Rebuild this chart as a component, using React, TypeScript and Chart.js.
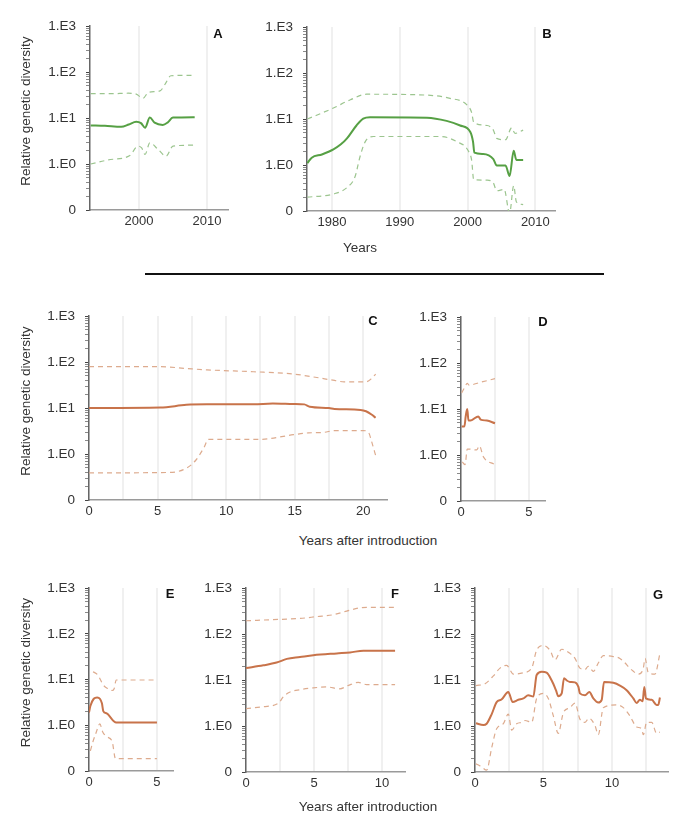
import React, { useEffect, useRef } from 'react';
import { Chart, registerables } from 'chart.js';

Chart.register(...registerables);

type Pt = [number, number];

// y axis: log10 of relative genetic diversity; bottom tick labelled "0"
const yTickValues = [-1, 0, 1, 2, 3];
const yTickLabels = ['0', '1.E0', '1.E1', '1.E2', '1.E3'];
const minorMultipliers = [2, 3, 4, 5, 6, 7, 8, 9];

// ---- Panel A (years) ----
const aMid: Pt[] = [[1992.9, 0.84], [1995, 0.83], [1997.4, 0.81], [1998.5, 0.86], [1999.6, 0.92], [2000.3, 0.89], [2000.9, 0.79], [2001.6, 1.01], [2002.3, 0.9], [2003.5, 0.85], [2004.2, 0.9], [2005.0, 1.01], [2008.2, 1.02]];
const aUp: Pt[] = [[1992.9, 1.53], [1996, 1.53], [1998.4, 1.54], [1999.6, 1.52], [2000.6, 1.43], [2001.4, 1.56], [2003.1, 1.59], [2003.9, 1.75], [2004.7, 1.92], [2008.2, 1.93]];
const aLo: Pt[] = [[1992.9, 0.0], [1995.5, 0.09], [1998.6, 0.18], [1999.9, 0.39], [2000.4, 0.35], [2000.9, 0.21], [2001.6, 0.46], [2002.8, 0.32], [2004.0, 0.17], [2005.0, 0.39], [2008.2, 0.41]];

// ---- Panel B (years) ----
const bMid: Pt[] = [[1976.35, 0.04], [1977.0, 0.16], [1978.5, 0.23], [1980.2, 0.34], [1981.3, 0.45], [1982.2, 0.58], [1983.6, 0.86], [1984.6, 1.01], [1985.6, 1.04], [1994, 1.03], [1996.9, 0.96], [1998.9, 0.86], [2000.4, 0.72], [2000.8, 0.51], [2001.0, 0.27], [2002.3, 0.24], [2003.8, 0.13], [2004.3, -0.01], [2005.6, -0.01], [2006.2, -0.24], [2006.8, 0.31], [2007.2, 0.11], [2008.2, 0.11]];
const bUp: Pt[] = [[1976.35, 1.0], [1980.2, 1.24], [1982.7, 1.42], [1985.1, 1.54], [1994, 1.52], [1997.4, 1.45], [1999.9, 1.31], [2000.6, 1.14], [2000.9, 0.93], [2002.9, 0.86], [2003.8, 0.76], [2004.3, 0.58], [2005.6, 0.55], [2006.5, 0.81], [2007.0, 0.69], [2008.2, 0.76]];
const bLo: Pt[] = [[1976.35, -0.7], [1980.2, -0.63], [1982.2, -0.49], [1983.4, -0.25], [1984.1, 0.17], [1984.9, 0.51], [1986.1, 0.62], [1996, 0.62], [1998.4, 0.51], [2000.1, 0.31], [2000.6, 0.1], [2000.9, -0.32], [2002.9, -0.33], [2003.8, -0.39], [2004.3, -0.56], [2005.4, -0.53], [2006.2, -1.05], [2006.8, -0.45], [2007.2, -0.8], [2008.2, -0.86]];

// ---- Panel C (years after introduction) ----
const cMid: Pt[] = [[0, 1.0], [5.2, 1.01], [7.1, 1.07], [8.6, 1.08], [12, 1.08], [13.4, 1.1], [14.9, 1.09], [15.7, 1.08], [16.1, 1.03], [17.5, 1.0], [17.9, 0.98], [19.8, 0.96], [20.2, 0.93], [20.6, 0.86], [20.9, 0.79]];
const cUp: Pt[] = [[0, 1.9], [5.2, 1.9], [7.1, 1.86], [8.6, 1.83], [12, 1.79], [14.9, 1.74], [16.5, 1.67], [17.9, 1.6], [18.6, 1.57], [20.2, 1.57], [20.6, 1.64], [20.9, 1.74]];
const cLo: Pt[] = [[0, -0.41], [5.9, -0.4], [7.1, -0.31], [7.8, -0.13], [8.4, 0.15], [8.7, 0.32], [12.5, 0.32], [14.9, 0.42], [16.0, 0.46], [17.1, 0.47], [17.9, 0.51], [20.0, 0.51], [20.4, 0.46], [20.6, 0.28], [20.9, -0.03]];

// ---- Panel D ----
const dMid: Pt[] = [[0.05, 0.62], [0.25, 0.62], [0.35, 0.85], [0.46, 1.0], [0.55, 0.75], [0.8, 0.76], [1.27, 0.84], [1.45, 0.77], [1.9, 0.75], [2.5, 0.69]];
const dUp: Pt[] = [[0.05, 1.35], [0.3, 1.49], [0.46, 1.56], [0.6, 1.52], [1.4, 1.58], [2.5, 1.66]];
const dLo: Pt[] = [[0.1, -0.15], [0.3, -0.21], [0.46, 0.13], [0.6, 0.13], [1.15, 0.11], [1.35, 0.2], [1.65, -0.04], [2.5, -0.21]];

// ---- Panel E ----
const eMid: Pt[] = [[0, 0.28], [0.1, 0.42], [0.35, 0.58], [0.6, 0.61], [0.8, 0.58], [0.95, 0.48], [1.05, 0.31], [1.3, 0.26], [2.0, 0.06], [5, 0.06]];
const eUp: Pt[] = [[0.3, 1.17], [0.65, 1.1], [1.05, 0.88], [1.4, 0.8], [1.7, 0.76], [1.85, 0.8], [2.0, 0.99], [5, 0.99]];
const eLo: Pt[] = [[0.1, -0.56], [0.3, -0.35], [0.5, -0.18], [0.8, 0.03], [1.0, -0.14], [1.3, -0.25], [1.7, -0.35], [1.95, -0.73], [5, -0.73]];

// ---- Panel F ----
const fMid: Pt[] = [[0, 1.26], [1.27, 1.32], [2.25, 1.38], [3.0, 1.46], [3.97, 1.5], [4.95, 1.54], [6.67, 1.58], [7.65, 1.6], [8.63, 1.64], [10.96, 1.64]];
const fUp: Pt[] = [[0, 2.29], [2.5, 2.32], [3.97, 2.34], [5.2, 2.38], [6.4, 2.42], [7.4, 2.5], [8.38, 2.57], [9.1, 2.58], [10.96, 2.58]];
const fLo: Pt[] = [[0, 0.38], [1.27, 0.42], [2.4, 0.5], [2.75, 0.64], [3.24, 0.74], [3.97, 0.79], [4.95, 0.83], [5.93, 0.85], [6.9, 0.81], [7.5, 0.88], [8.26, 0.95], [8.87, 0.9], [10.96, 0.9]];

// ---- Panel G ----
const gMid: Pt[] = [[0.07, 0.06], [0.61, 0.02], [0.85, 0.05], [1.22, 0.26], [1.58, 0.52], [1.95, 0.58], [2.31, 0.72], [2.43, 0.74], [2.75, 0.52], [3.16, 0.57], [3.53, 0.6], [3.89, 0.67], [4.26, 0.64], [4.5, 1.11], [4.87, 1.18], [5.23, 1.16], [5.6, 0.99], [5.91, 0.78], [6.08, 0.65], [6.33, 0.71], [6.5, 1.04], [6.7, 0.99], [6.93, 0.96], [7.3, 0.95], [7.55, 0.85], [7.66, 0.71], [8.03, 0.67], [8.35, 0.74], [8.64, 0.6], [9.0, 0.51], [9.25, 0.57], [9.42, 0.96], [10.1, 0.94], [10.58, 0.88], [11.07, 0.78], [11.56, 0.6], [11.8, 0.5], [12.04, 0.57], [12.24, 0.54], [12.36, 0.85], [12.48, 0.6], [12.9, 0.57], [13.26, 0.46], [13.38, 0.46], [13.5, 0.62]];
const gUp: Pt[] = [[0.07, 0.88], [0.73, 0.92], [1.34, 1.09], [1.83, 1.26], [2.31, 1.32], [2.8, 1.13], [3.53, 1.16], [4.14, 1.26], [4.5, 1.65], [4.99, 1.75], [5.47, 1.65], [5.84, 1.44], [6.33, 1.67], [6.93, 1.58], [7.3, 1.47], [7.66, 1.26], [8.03, 1.23], [8.27, 1.3], [8.64, 1.19], [9.0, 1.37], [9.37, 1.53], [10.1, 1.51], [10.58, 1.47], [11.56, 1.19], [11.92, 1.13], [12.29, 1.26], [12.41, 1.47], [12.65, 1.16], [13.14, 1.13], [13.5, 1.58]];
const gLo: Pt[] = [[0.07, -0.82], [0.49, -0.89], [0.85, -0.96], [1.22, -0.47], [1.58, -0.06], [2.07, 0.05], [2.43, 0.26], [2.68, -0.09], [3.04, 0.05], [3.41, 0.08], [3.65, 0.12], [4.14, 0.08], [4.5, 0.6], [4.99, 0.71], [5.35, 0.6], [5.72, 0.22], [6.08, -0.16], [6.45, 0.29], [6.93, 0.4], [7.3, 0.5], [7.66, 0.15], [8.03, 0.08], [8.32, 0.17], [8.76, 0.01], [9.0, -0.19], [9.37, 0.4], [10.34, 0.46], [10.83, 0.4], [11.31, 0.22], [11.8, -0.02], [12.16, -0.06], [12.29, -0.19], [12.53, 0.08], [12.9, 0.08], [13.26, -0.16], [13.5, -0.13]];

// x gridline positions and labelled ticks
const aGrid = [2000, 2010];
const bGrid = [1980, 1990, 2000, 2010];
const cGrid = [0, 2.5, 5, 7.5, 10, 12.5, 15, 17.5, 20];
const deGrid = [0, 2.5, 5];
const fGrid = [0, 2.5, 5, 7.5, 10];
const gGrid = [0, 2.5, 5, 7.5, 10, 12.5];

const Y_TITLE = 'Relative genetic diversity';

const COLORS = {
  green: { mid: '#56a044', band: '#9cc58f' },
  orange: { mid: '#c8734a', band: '#ddab8e' },
};

const FONT = '"Liberation Sans", Arial, Helvetica, sans-serif';

type Panel = {
  letter: string; L: number; R: number; T: number; B: number;
  xMin: number; xMax: number; grid: number[];
  mid: Pt[]; up: Pt[]; lo: Pt[]; color: 'green' | 'orange';
  yTitle: boolean; ldx: number; ldy: number;
};

const panels: Panel[] = [
  { letter: 'A', L: 90, R: 228, T: 18, B: 210, xMin: 1992.8, xMax: 2013.1, grid: aGrid, mid: aMid, up: aUp, lo: aLo, color: 'green', yTitle: true, ldx: -10, ldy: 8 },
  { letter: 'B', L: 307, R: 555, T: 19, B: 211, xMin: 1976.3, xMax: 2012.9, grid: bGrid, mid: bMid, up: bUp, lo: bLo, color: 'green', yTitle: false, ldx: -8, ldy: 7 },
  { letter: 'C', L: 89, R: 387, T: 308, B: 500, xMin: 0, xMax: 21.73, grid: cGrid, mid: cMid, up: cUp, lo: cLo, color: 'orange', yTitle: true, ldx: -14, ldy: 5 },
  { letter: 'D', L: 461, R: 545, T: 309, B: 501, xMin: 0, xMax: 6.18, grid: deGrid, mid: dMid, up: dUp, lo: dLo, color: 'orange', yTitle: false, ldx: -2, ldy: 5 },
  { letter: 'E', L: 89, R: 173, T: 580, B: 771, xMin: 0, xMax: 6.18, grid: deGrid, mid: eMid, up: eUp, lo: eLo, color: 'orange', yTitle: true, ldx: -3, ldy: 6 },
  { letter: 'F', L: 246, R: 405, T: 580, B: 772, xMin: 0, xMax: 11.69, grid: fGrid, mid: fMid, up: fUp, lo: fLo, color: 'orange', yTitle: false, ldx: -10, ldy: 6 },
  { letter: 'G', L: 475, R: 668, T: 580, B: 772, xMin: 0, xMax: 14.09, grid: gGrid, mid: gMid, up: gUp, lo: gLo, color: 'orange', yTitle: false, ldx: -10, ldy: 7 },
];

const PAD_TOP = 10;
const PAD_RIGHT = 4;
const X_AXIS_H = 30;
const Y_AXIS_W = 50;

// draws the panel letter and (for the left column) the rotated y-axis title
const annotPlugin = {
  id: 'panelAnnot',
  afterDraw(chart: any, _args: any, opts: any) {
    const { ctx, chartArea } = chart;
    ctx.save();
    ctx.font = `bold 13px ${FONT}`;
    ctx.fillStyle = '#111';
    ctx.textAlign = 'center';
    ctx.textBaseline = 'middle';
    ctx.fillText(opts.text, chartArea.right + opts.dx, chartArea.top + opts.dy);
    if (opts.yTitle) {
      ctx.font = `13.5px ${FONT}`;
      ctx.fillStyle = '#333';
      ctx.translate(26, (chartArea.top + chartArea.bottom) / 2 - 7);
      ctx.rotate(-Math.PI / 2);
      ctx.fillText(opts.yTitle, 0, 0);
    }
    ctx.restore();
  },
};

function isMajorY(v: number) {
  return yTickValues.some((t) => Math.abs(t - v) < 1e-6);
}

function PanelChart({ p }: { p: Panel }) {
  const ref = useRef<HTMLCanvasElement>(null);
  const yw = p.yTitle ? p.L : Y_AXIS_W;
  const left = p.L - yw;
  const top = p.T - PAD_TOP;
  const w = yw + (p.R - p.L) + PAD_RIGHT;
  const h = PAD_TOP + (p.B - p.T) + X_AXIS_H;

  useEffect(() => {
    if (!ref.current) return;
    const col = COLORS[p.color];
    const toXY = (s: Pt[]) => s.map(([x, y]) => ({ x, y }));
    const yPositions: number[] = [];
    for (let d = -1; d <= 2; d++) {
      yPositions.push(d);
      minorMultipliers.forEach((k) => yPositions.push(d + Math.log10(k)));
    }
    yPositions.push(3);
    const labelled = p.grid.filter((v) => (p.xMin > 1000 ? true : v % 5 === 0));

    const chart = new Chart(ref.current, {
      type: 'line',
      data: {
        datasets: [
          { data: toXY(p.up), borderColor: col.band, borderWidth: 1.2, borderDash: [5, 4], pointRadius: 0, cubicInterpolationMode: 'monotone', fill: false },
          { data: toXY(p.lo), borderColor: col.band, borderWidth: 1.2, borderDash: [5, 4], pointRadius: 0, cubicInterpolationMode: 'monotone', fill: false },
          { data: toXY(p.mid), borderColor: col.mid, borderWidth: 2, pointRadius: 0, cubicInterpolationMode: 'monotone', fill: false },
        ],
      },
      options: {
        responsive: false,
        animation: false,
        events: [],
        layout: { padding: { top: PAD_TOP, right: PAD_RIGHT, bottom: 0, left: 0 } },
        plugins: {
          legend: { display: false },
          tooltip: { enabled: false },
          panelAnnot: { text: p.letter, dx: p.ldx, dy: p.ldy, yTitle: p.yTitle ? Y_TITLE : '' },
        } as any,
        scales: {
          x: {
            type: 'linear',
            min: p.xMin,
            max: p.xMax,
            afterBuildTicks: (scale: any) => { scale.ticks = p.grid.map((v) => ({ value: v })); },
            afterFit: (scale: any) => { scale.height = X_AXIS_H; },
            grid: { display: true, drawOnChartArea: true, drawTicks: false, color: '#f0f0f0', lineWidth: 2 },
            border: { display: true, color: '#9a9a9a', width: 1.5 },
            ticks: {
              autoSkip: false,
              maxRotation: 0,
              padding: 4,
              color: '#333',
              font: { family: FONT, size: 13 },
              callback: (v: any) => (labelled.includes(Number(v)) ? String(v) : ''),
            },
          },
          y: {
            type: 'linear',
            min: -1,
            max: 3,
            afterBuildTicks: (scale: any) => { scale.ticks = yPositions.map((v) => ({ value: v })); },
            afterFit: (scale: any) => { scale.width = yw; },
            grid: {
              display: true,
              drawOnChartArea: false,
              drawTicks: true,
              tickLength: 4,
              tickColor: (ctx: any) => (ctx.tick && isMajorY(ctx.tick.value) ? '#444' : '#8a8a8a'),
            },
            border: { display: true, color: '#666', width: 1.5 },
            ticks: {
              autoSkip: false,
              padding: 10,
              color: '#333',
              font: { family: FONT, size: 13.5 },
              callback: (v: any) => {
                const i = yTickValues.findIndex((t) => Math.abs(t - Number(v)) < 1e-6);
                return i >= 0 ? yTickLabels[i] : '';
              },
            },
          },
        },
      } as any,
      plugins: [annotPlugin],
    });
    return () => chart.destroy();
  }, []);

  return (
    <canvas
      ref={ref}
      width={w}
      height={h}
      style={{ position: 'absolute', left, top, width: w, height: h }}
    />
  );
}

const labelStyle: React.CSSProperties = {
  position: 'absolute',
  transform: 'translate(-50%, -50%)',
  whiteSpace: 'nowrap',
  fontFamily: FONT,
  fontSize: 13.5,
  color: '#333',
};

export default function App() {
  return (
    <div style={{ position: 'absolute', left: 0, top: 0, width: 685, height: 822, background: '#fff', overflow: 'hidden' }}>
      {panels.map((p) => (
        <PanelChart key={p.letter} p={p} />
      ))}
      <div style={{ ...labelStyle, left: 360, top: 247 }}>Years</div>
      <div style={{ position: 'absolute', left: 145, top: 273, width: 459, height: 1.5, background: '#111' }} />
      <div style={{ ...labelStyle, left: 368, top: 540 }}>Years after introduction</div>
      <div style={{ ...labelStyle, left: 368, top: 806 }}>Years after introduction</div>
    </div>
  );
}
